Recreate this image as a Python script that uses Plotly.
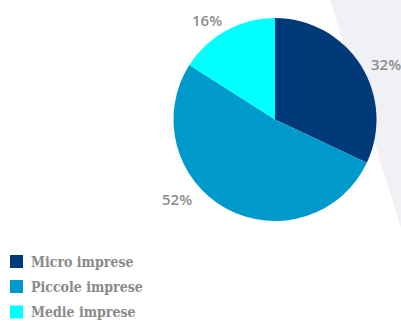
import plotly.graph_objects as go

# Company size breakdown
categories = ["Micro imprese", "Piccole imprese", "Medie imprese"]
shares = [32, 52, 16]
colors = ["#003a78", "#0099cc", "#00ffff"]

W, H = 401, 321

fig = go.Figure()
fig.add_trace(go.Pie(
    labels=categories,
    values=shares,
    sort=False,
    direction="clockwise",
    rotation=0,
    marker=dict(colors=colors, line=dict(width=0)),
    textinfo="none",
    hoverinfo="label+percent",
    domain=dict(x=[173 / W, 377 / W], y=[1 - 221 / H, 1 - 18 / H]),
    showlegend=False,
))

# Percentage labels placed around the pie
label_pos = [(386, 64), (177, 199), (207, 20)]
anns = []
for v, (px, py) in zip(shares, label_pos):
    anns.append(dict(
        x=px / W, y=1 - py / H, xref="paper", yref="paper",
        text=f"{v}%", showarrow=False,
        font=dict(family="Open Sans", size=15, color="#8c8c8c", weight=600),
        xanchor="center", yanchor="middle",
    ))

# Legend drawn as colour squares with labels
shapes = [dict(
    type="path", xref="paper", yref="paper", layer="below",
    path=f"M {330 / W} 1 L 1 1 L 1 {1 - 228 / H} Z",
    fillcolor="#f0f1f4", line=dict(width=0),
)]
row_y = [261.5, 286.5, 312]
for name, col, ry in zip(categories, colors, row_y):
    shapes.append(dict(
        type="rect", xref="paper", yref="paper",
        x0=10 / W, x1=23 / W, y0=1 - (ry + 6.5) / H, y1=1 - (ry - 6.5) / H,
        fillcolor=col, line=dict(width=0),
    ))
    anns.append(dict(
        x=29 / W, y=1 - ry / H, xref="paper", yref="paper",
        text=f'<span style="font-stretch:condensed">{name}</span>',
        showarrow=False,
        font=dict(family="DejaVu Serif", size=14, color="#8a8a8a", weight="bold"),
        xanchor="left", yanchor="middle",
    ))

fig.update_layout(
    width=W, height=H,
    margin=dict(l=0, r=0, t=0, b=0),
    paper_bgcolor="white",
    plot_bgcolor="white",
    showlegend=False,
    annotations=anns,
    shapes=shapes,
)

fig.write_html("out.html")
